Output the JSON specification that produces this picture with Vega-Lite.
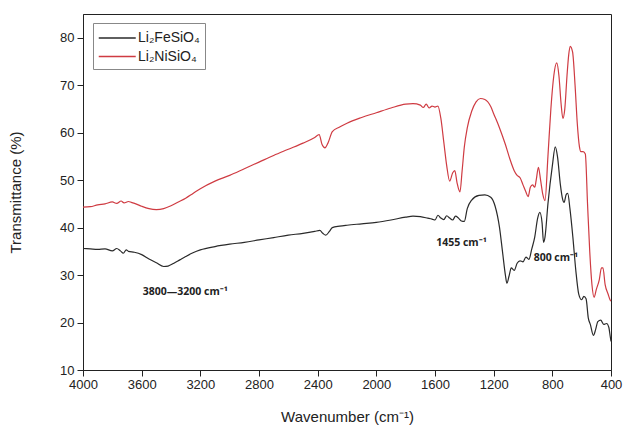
{
  "$schema": "https://vega.github.io/schema/vega-lite/v6.json",
  "width": 528,
  "height": 356,
  "autosize": {"type": "none"},
  "padding": {"left": 83, "top": 14, "right": 16, "bottom": 57},
  "background": "white",
  "config": {
    "view": {"stroke": "#222", "strokeWidth": 1},
    "axis": {
      "grid": false,
      "domainColor": "#222",
      "tickColor": "#222",
      "labelFont": "Liberation Sans",
      "labelFontSize": 13,
      "labelColor": "#222",
      "titleFont": "Liberation Sans",
      "titleFontSize": 15,
      "titleFontWeight": "normal",
      "titleColor": "#222"
    }
  },
  "datasets": {
    "fe": [
      {"wn": 4000, "T": 35.6}, {"wn": 3950, "T": 35.5}, {"wn": 3900, "T": 35.4}, {"wn": 3850, "T": 35.5},
      {"wn": 3800, "T": 35.1}, {"wn": 3770, "T": 35.6}, {"wn": 3745, "T": 35.1}, {"wn": 3725, "T": 34.6},
      {"wn": 3705, "T": 35.3}, {"wn": 3690, "T": 35.0}, {"wn": 3650, "T": 34.8}, {"wn": 3600, "T": 34.3},
      {"wn": 3550, "T": 33.4}, {"wn": 3500, "T": 32.6}, {"wn": 3450, "T": 31.8}, {"wn": 3420, "T": 31.9},
      {"wn": 3380, "T": 32.5}, {"wn": 3340, "T": 33.2}, {"wn": 3300, "T": 33.9}, {"wn": 3250, "T": 34.7},
      {"wn": 3200, "T": 35.3}, {"wn": 3100, "T": 36.0}, {"wn": 3000, "T": 36.5}, {"wn": 2900, "T": 36.9},
      {"wn": 2800, "T": 37.4}, {"wn": 2700, "T": 37.9}, {"wn": 2600, "T": 38.4}, {"wn": 2500, "T": 38.8},
      {"wn": 2420, "T": 39.2}, {"wn": 2385, "T": 39.4}, {"wn": 2365, "T": 38.8}, {"wn": 2345, "T": 38.4},
      {"wn": 2320, "T": 39.2}, {"wn": 2300, "T": 40.0}, {"wn": 2250, "T": 40.3}, {"wn": 2200, "T": 40.5},
      {"wn": 2100, "T": 40.8}, {"wn": 2000, "T": 41.1}, {"wn": 1900, "T": 41.6}, {"wn": 1800, "T": 42.2},
      {"wn": 1750, "T": 42.4}, {"wn": 1700, "T": 42.3}, {"wn": 1650, "T": 42.0}, {"wn": 1620, "T": 41.8},
      {"wn": 1600, "T": 41.6}, {"wn": 1580, "T": 42.6}, {"wn": 1560, "T": 42.0}, {"wn": 1540, "T": 41.7},
      {"wn": 1520, "T": 42.5}, {"wn": 1500, "T": 42.0}, {"wn": 1480, "T": 41.6}, {"wn": 1460, "T": 42.4},
      {"wn": 1440, "T": 42.0}, {"wn": 1420, "T": 41.4}, {"wn": 1400, "T": 41.3}, {"wn": 1380, "T": 44.0},
      {"wn": 1350, "T": 45.8}, {"wn": 1300, "T": 46.8}, {"wn": 1260, "T": 46.9}, {"wn": 1220, "T": 46.4},
      {"wn": 1190, "T": 44.5}, {"wn": 1160, "T": 40.0}, {"wn": 1140, "T": 35.0}, {"wn": 1120, "T": 30.0},
      {"wn": 1110, "T": 28.3}, {"wn": 1095, "T": 29.8}, {"wn": 1080, "T": 31.5}, {"wn": 1060, "T": 31.0},
      {"wn": 1040, "T": 32.5}, {"wn": 1020, "T": 33.0}, {"wn": 1000, "T": 32.8}, {"wn": 980, "T": 33.8},
      {"wn": 960, "T": 33.3}, {"wn": 940, "T": 35.5}, {"wn": 920, "T": 38.0}, {"wn": 900, "T": 42.0},
      {"wn": 885, "T": 43.2}, {"wn": 870, "T": 41.0}, {"wn": 860, "T": 36.9}, {"wn": 850, "T": 38.0},
      {"wn": 830, "T": 45.0}, {"wn": 800, "T": 53.0}, {"wn": 780, "T": 57.0}, {"wn": 765, "T": 55.0},
      {"wn": 745, "T": 49.0}, {"wn": 730, "T": 46.0}, {"wn": 720, "T": 45.3}, {"wn": 705, "T": 47.0},
      {"wn": 695, "T": 47.2}, {"wn": 680, "T": 44.0}, {"wn": 660, "T": 38.0}, {"wn": 640, "T": 31.0},
      {"wn": 620, "T": 26.0}, {"wn": 600, "T": 24.8}, {"wn": 585, "T": 25.5}, {"wn": 570, "T": 25.0},
      {"wn": 555, "T": 21.0}, {"wn": 540, "T": 19.5}, {"wn": 520, "T": 17.3}, {"wn": 505, "T": 18.5},
      {"wn": 490, "T": 20.2}, {"wn": 470, "T": 20.5}, {"wn": 450, "T": 19.6}, {"wn": 430, "T": 19.8},
      {"wn": 415, "T": 19.0}, {"wn": 405, "T": 17.0}, {"wn": 400, "T": 16.0}
    ],
    "ni": [
      {"wn": 4000, "T": 44.3}, {"wn": 3950, "T": 44.4}, {"wn": 3900, "T": 44.8}, {"wn": 3850, "T": 45.0},
      {"wn": 3800, "T": 45.4}, {"wn": 3770, "T": 45.1}, {"wn": 3740, "T": 45.6}, {"wn": 3720, "T": 45.2},
      {"wn": 3690, "T": 45.5}, {"wn": 3670, "T": 45.3}, {"wn": 3640, "T": 45.0}, {"wn": 3600, "T": 44.5},
      {"wn": 3550, "T": 44.0}, {"wn": 3500, "T": 43.8}, {"wn": 3450, "T": 44.0}, {"wn": 3400, "T": 44.6},
      {"wn": 3350, "T": 45.4}, {"wn": 3300, "T": 46.2}, {"wn": 3250, "T": 47.2}, {"wn": 3200, "T": 48.2},
      {"wn": 3100, "T": 49.8}, {"wn": 3000, "T": 51.0}, {"wn": 2900, "T": 52.4}, {"wn": 2800, "T": 53.8},
      {"wn": 2700, "T": 55.2}, {"wn": 2600, "T": 56.5}, {"wn": 2500, "T": 57.8}, {"wn": 2420, "T": 59.0},
      {"wn": 2390, "T": 59.6}, {"wn": 2370, "T": 57.5}, {"wn": 2350, "T": 56.8}, {"wn": 2330, "T": 57.8},
      {"wn": 2300, "T": 60.2}, {"wn": 2250, "T": 61.2}, {"wn": 2200, "T": 62.0}, {"wn": 2100, "T": 63.2},
      {"wn": 2000, "T": 64.2}, {"wn": 1900, "T": 65.2}, {"wn": 1800, "T": 66.0}, {"wn": 1750, "T": 66.1},
      {"wn": 1700, "T": 65.8}, {"wn": 1680, "T": 65.3}, {"wn": 1660, "T": 66.0}, {"wn": 1640, "T": 65.2},
      {"wn": 1620, "T": 65.6}, {"wn": 1600, "T": 65.4}, {"wn": 1580, "T": 65.6}, {"wn": 1560, "T": 63.0},
      {"wn": 1540, "T": 58.0}, {"wn": 1520, "T": 53.0}, {"wn": 1500, "T": 49.8}, {"wn": 1480, "T": 51.5},
      {"wn": 1465, "T": 52.0}, {"wn": 1450, "T": 49.5}, {"wn": 1430, "T": 47.5}, {"wn": 1415, "T": 52.0},
      {"wn": 1400, "T": 57.0}, {"wn": 1380, "T": 61.0}, {"wn": 1350, "T": 64.5}, {"wn": 1320, "T": 66.5},
      {"wn": 1290, "T": 67.2}, {"wn": 1260, "T": 67.0}, {"wn": 1220, "T": 65.5}, {"wn": 1200, "T": 64.0},
      {"wn": 1160, "T": 61.0}, {"wn": 1120, "T": 57.5}, {"wn": 1090, "T": 54.5}, {"wn": 1060, "T": 52.0},
      {"wn": 1040, "T": 51.0}, {"wn": 1020, "T": 50.5}, {"wn": 1000, "T": 49.0}, {"wn": 980, "T": 47.5},
      {"wn": 965, "T": 46.5}, {"wn": 950, "T": 48.5}, {"wn": 935, "T": 49.0}, {"wn": 920, "T": 48.5},
      {"wn": 910, "T": 50.0}, {"wn": 895, "T": 52.7}, {"wn": 880, "T": 50.0}, {"wn": 865, "T": 47.0},
      {"wn": 850, "T": 45.7}, {"wn": 830, "T": 55.0}, {"wn": 810, "T": 65.0}, {"wn": 790, "T": 72.0},
      {"wn": 770, "T": 74.7}, {"wn": 755, "T": 72.0}, {"wn": 740, "T": 66.0}, {"wn": 728, "T": 63.0},
      {"wn": 715, "T": 65.0}, {"wn": 700, "T": 72.0}, {"wn": 688, "T": 76.5}, {"wn": 678, "T": 78.2},
      {"wn": 662, "T": 77.0}, {"wn": 645, "T": 70.0}, {"wn": 630, "T": 62.0}, {"wn": 615, "T": 57.0},
      {"wn": 605, "T": 56.0}, {"wn": 590, "T": 56.0}, {"wn": 575, "T": 55.5}, {"wn": 560, "T": 45.0},
      {"wn": 545, "T": 35.0}, {"wn": 530, "T": 28.0}, {"wn": 515, "T": 25.3}, {"wn": 500, "T": 27.0},
      {"wn": 480, "T": 29.0}, {"wn": 465, "T": 31.5}, {"wn": 455, "T": 31.5}, {"wn": 440, "T": 28.0},
      {"wn": 420, "T": 26.0}, {"wn": 405, "T": 24.7}, {"wn": 400, "T": 24.5}
    ],
    "notes": [
      {"wn": 3303, "T": 26.4, "label": "3800—3200 cm⁻¹"},
      {"wn": 1420, "T": 36.7, "label": "1455 cm⁻¹"},
      {"wn": 776, "T": 33.5, "label": "800 cm⁻¹"}
    ]
  },
  "layer": [
    {
      "data": {"name": "ni"},
      "transform": [{"calculate": "'Li₂NiSiO₄'", "as": "sample"}],
      "mark": {"type": "line", "strokeWidth": 1.2, "interpolate": "monotone"},
      "encoding": {
        "x": {
          "field": "wn", "type": "quantitative",
          "scale": {"domain": [4000, 400], "nice": false, "zero": false},
          "axis": {
            "title": "Wavenumber (cm⁻¹)",
            "values": [4000, 3800, 3600, 3400, 3200, 3000, 2800, 2600, 2400, 2200, 2000, 1800, 1600, 1400, 1200, 1000, 800, 600, 400],
            "labelExpr": "datum.value % 400 === 0 ? datum.label : ''",
            "format": "d",
            "tickSize": {"condition": {"test": "datum.value % 400 === 0", "value": 6}, "value": 3},
            "labelPadding": 2,
            "labelFlush": false,
            "labelOverlap": false,
            "titlePadding": 18
          }
        },
        "y": {
          "field": "T", "type": "quantitative",
          "scale": {"domain": [10, 85], "nice": false, "zero": false},
          "axis": {
            "title": "Transmittance (%)",
            "values": [10, 15, 20, 25, 30, 35, 40, 45, 50, 55, 60, 65, 70, 75, 80],
            "labelExpr": "datum.value % 10 === 0 ? datum.label : ''",
            "tickSize": {"condition": {"test": "datum.value % 10 === 0", "value": 6}, "value": 3},
            "labelPadding": 3,
            "titlePadding": 36
          }
        },
        "color": {
          "field": "sample", "type": "nominal",
          "scale": {"domain": ["Li₂FeSiO₄", "Li₂NiSiO₄"], "range": ["#2a2a2a", "#cf3b42"]},
          "legend": {
            "title": null,
            "orient": "none",
            "legendX": 10,
            "legendY": 9,
            "symbolType": "M-1,0H3",
            "symbolSize": 342,
            "symbolStrokeWidth": 1.3,
            "symbolFillColor": "transparent",
            "labelOffset": 20,
            "labelFont": "Liberation Sans",
            "labelFontSize": 14,
            "labelColor": "#222",
            "strokeColor": "#888",
            "padding": 5,
            "rowPadding": 1.5,
            "fillColor": "white"
          }
        }
      }
    },
    {
      "data": {"name": "fe"},
      "transform": [{"calculate": "'Li₂FeSiO₄'", "as": "sample"}],
      "mark": {"type": "line", "strokeWidth": 1.2, "interpolate": "monotone"},
      "encoding": {
        "x": {"field": "wn", "type": "quantitative"},
        "y": {"field": "T", "type": "quantitative"},
        "color": {"field": "sample", "type": "nominal"}
      }
    },
    {
      "data": {"name": "notes"},
      "mark": {"type": "text", "font": "Open Sans", "fontWeight": "bold", "fontSize": 10.5, "color": "#222"},
      "encoding": {
        "x": {"field": "wn", "type": "quantitative"},
        "y": {"field": "T", "type": "quantitative"},
        "text": {"field": "label"}
      }
    }
  ]
}
